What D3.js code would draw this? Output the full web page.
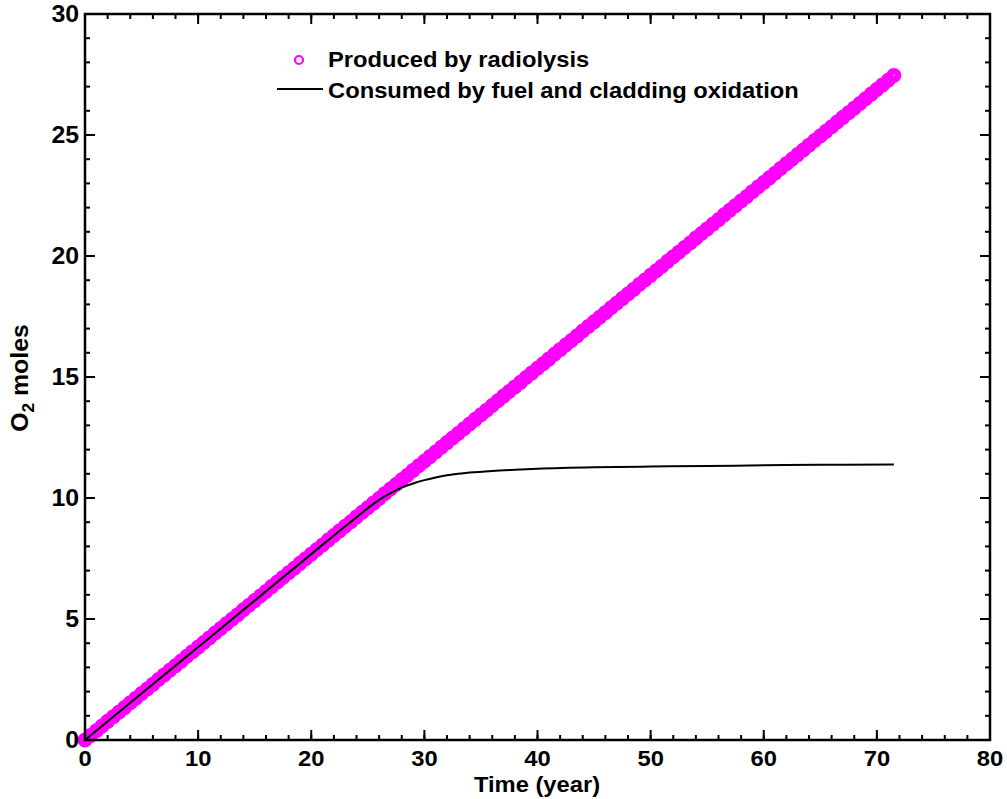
<!DOCTYPE html>
<html><head><meta charset="utf-8">
<script src="https://cdn.jsdelivr.net/npm/d3@7"></script>
<style>body{margin:0;background:#fff;} svg{display:block;} text{font-family:"Liberation Sans",Arial,sans-serif;font-weight:bold;}</style>
</head><body><svg id="c" width="1007" height="799"></svg>
<script>
// Produced by radiolysis (time in years, O2 moles)
const producedTime = [0,0.5,1,1.5,2,2.5,3,3.5,4,4.5,5,5.5,6,6.5,7,7.5,8,8.5,9,9.5,10,10.5,11,11.5,12,12.5,13,13.5,14,14.5,15,15.5,16,16.5,17,17.5,18,18.5,19,19.5,20,20.5,21,21.5,22,22.5,23,23.5,24,24.5,25,25.5,26,26.5,27,27.5,28,28.5,29,29.5,30,30.5,31,31.5,32,32.5,33,33.5,34,34.5,35,35.5,36,36.5,37,37.5,38,38.5,39,39.5,40,40.5,41,41.5,42,42.5,43,43.5,44,44.5,45,45.5,46,46.5,47,47.5,48,48.5,49,49.5,50,50.5,51,51.5,52,52.5,53,53.5,54,54.5,55,55.5,56,56.5,57,57.5,58,58.5,59,59.5,60,60.5,61,61.5,62,62.5,63,63.5,64,64.5,65,65.5,66,66.5,67,67.5,68,68.5,69,69.5,70,70.5,71,71.5];
const producedMoles = [0,0.19,0.38,0.58,0.77,0.96,1.15,1.34,1.54,1.73,1.92,2.11,2.30,2.50,2.69,2.88,3.07,3.26,3.46,3.65,3.84,4.03,4.22,4.42,4.61,4.80,4.99,5.18,5.38,5.57,5.76,5.95,6.14,6.34,6.53,6.72,6.91,7.10,7.30,7.49,7.68,7.87,8.06,8.26,8.45,8.64,8.83,9.02,9.22,9.41,9.60,9.79,9.98,10.18,10.37,10.56,10.75,10.94,11.14,11.33,11.52,11.71,11.90,12.10,12.29,12.48,12.67,12.86,13.06,13.25,13.44,13.63,13.82,14.02,14.21,14.40,14.59,14.78,14.98,15.17,15.36,15.55,15.74,15.94,16.13,16.32,16.51,16.70,16.90,17.09,17.28,17.47,17.66,17.86,18.05,18.24,18.43,18.62,18.82,19.01,19.20,19.39,19.58,19.78,19.97,20.16,20.35,20.54,20.74,20.93,21.12,21.31,21.50,21.70,21.89,22.08,22.27,22.46,22.66,22.85,23.04,23.23,23.42,23.62,23.81,24.00,24.19,24.38,24.58,24.77,24.96,25.15,25.34,25.54,25.73,25.92,26.11,26.30,26.50,26.69,26.88,27.07,27.26,27.46];
// Consumed by fuel and cladding oxidation
const consumedTime = [0,5,10,15,20,22,24,25,26,27,28,29,30,31,32,34,36,38,40,45,50,55,60,65,71.5];
const consumedMoles = [0,1.92,3.84,5.76,7.68,8.45,9.2,9.58,9.92,10.2,10.43,10.6,10.74,10.85,10.94,11.05,11.12,11.17,11.21,11.27,11.3,11.32,11.35,11.37,11.38];
const xTicks = [0,10,20,30,40,50,60,70,80];
const yTicks = [0,5,10,15,20,25,30];
const legendLabels = ["Produced by radiolysis","Consumed by fuel and cladding oxidation"];

const svg = d3.select("#c");
const L=85,R=990,T=14,B=740;
const SX = 1.08;
const x = d3.scaleLinear().domain([0,80]).range([L,R]);
const y = d3.scaleLinear().domain([0,30]).range([B,T]);

const g = svg.append("g");
const prod = producedTime.map((t,i)=>[t,producedMoles[i]]);
g.selectAll("circle.p").data(prod).enter().append("circle")
  .attr("cx",d=>x(d[0])).attr("cy",d=>y(d[1])).attr("r",4.2)
  .attr("fill","none").attr("stroke","#ff00ff").attr("stroke-width",6.6);
const cons = consumedTime.map((t,i)=>[t,consumedMoles[i]]);
g.append("path").datum(cons)
  .attr("d",d3.line().x(d=>x(d[0])).y(d=>y(d[1])).curve(d3.curveMonotoneX))
  .attr("fill","none").attr("stroke","#000").attr("stroke-width",2);

const minorX = d3.range(0,81,2), minorY = d3.range(0,31,1);
function axisTicks(sel, scale, vals, len, orient, pos){
  vals.forEach(v=>{
    const p=scale(v);
    if(orient==="b") sel.append("line").attr("x1",p).attr("x2",p).attr("y1",pos).attr("y2",pos-len);
    if(orient==="t") sel.append("line").attr("x1",p).attr("x2",p).attr("y1",pos).attr("y2",pos+len);
    if(orient==="l") sel.append("line").attr("y1",p).attr("y2",p).attr("x1",pos).attr("x2",pos+len);
    if(orient==="r") sel.append("line").attr("y1",p).attr("y2",p).attr("x1",pos).attr("x2",pos-len);
  });
}
const ax = svg.append("g").attr("stroke","#000").attr("stroke-width",2);
axisTicks(ax,x,minorX,5,"b",B); axisTicks(ax,x,xTicks,10,"b",B);
axisTicks(ax,x,minorX,5,"t",T); axisTicks(ax,x,xTicks,10,"t",T);
axisTicks(ax,y,minorY,5,"l",L); axisTicks(ax,y,yTicks,10,"l",L);
axisTicks(ax,y,minorY,5,"r",R); axisTicks(ax,y,yTicks,10,"r",R);
svg.append("rect").attr("x",L).attr("y",T).attr("width",R-L).attr("height",B-T)
  .attr("fill","none").attr("stroke","#000").attr("stroke-width",2.5);

svg.append("g").selectAll("text").data(xTicks).enter().append("text")
  .attr("transform",d=>`translate(${x(d)},766) scale(${SX},1)`).attr("text-anchor","middle").attr("font-size",22).text(d=>d);
svg.append("g").selectAll("text").data(yTicks).enter().append("text")
  .attr("transform",d=>`translate(79,${y(d)+8}) scale(${SX},1)`).attr("text-anchor","end").attr("font-size",23).text(d=>d);

svg.append("text").attr("transform",`translate(537,792) scale(${SX},1)`).attr("text-anchor","middle").attr("font-size",22).text("Time (year)");
const yt = svg.append("text").attr("transform",`translate(28,378) rotate(-90) scale(${SX},1)`).attr("text-anchor","middle").attr("font-size",23);
yt.append("tspan").text("O");
yt.append("tspan").attr("font-size",16).attr("dy",6).text("2");
yt.append("tspan").attr("dy",-6).text(" moles");

const lg = svg.append("g");
lg.append("circle").attr("cx",299).attr("cy",60).attr("r",4).attr("fill","none").attr("stroke","#ff00ff").attr("stroke-width",2.2);
lg.append("line").attr("x1",277).attr("x2",323).attr("y1",89).attr("y2",89).attr("stroke","#000").attr("stroke-width",2);
lg.selectAll("text").data(legendLabels).enter().append("text")
  .attr("transform",(d,i)=>`translate(328,${67+i*31}) scale(${SX},1)`).attr("font-size",22).text(d=>d);
</script></body></html>
